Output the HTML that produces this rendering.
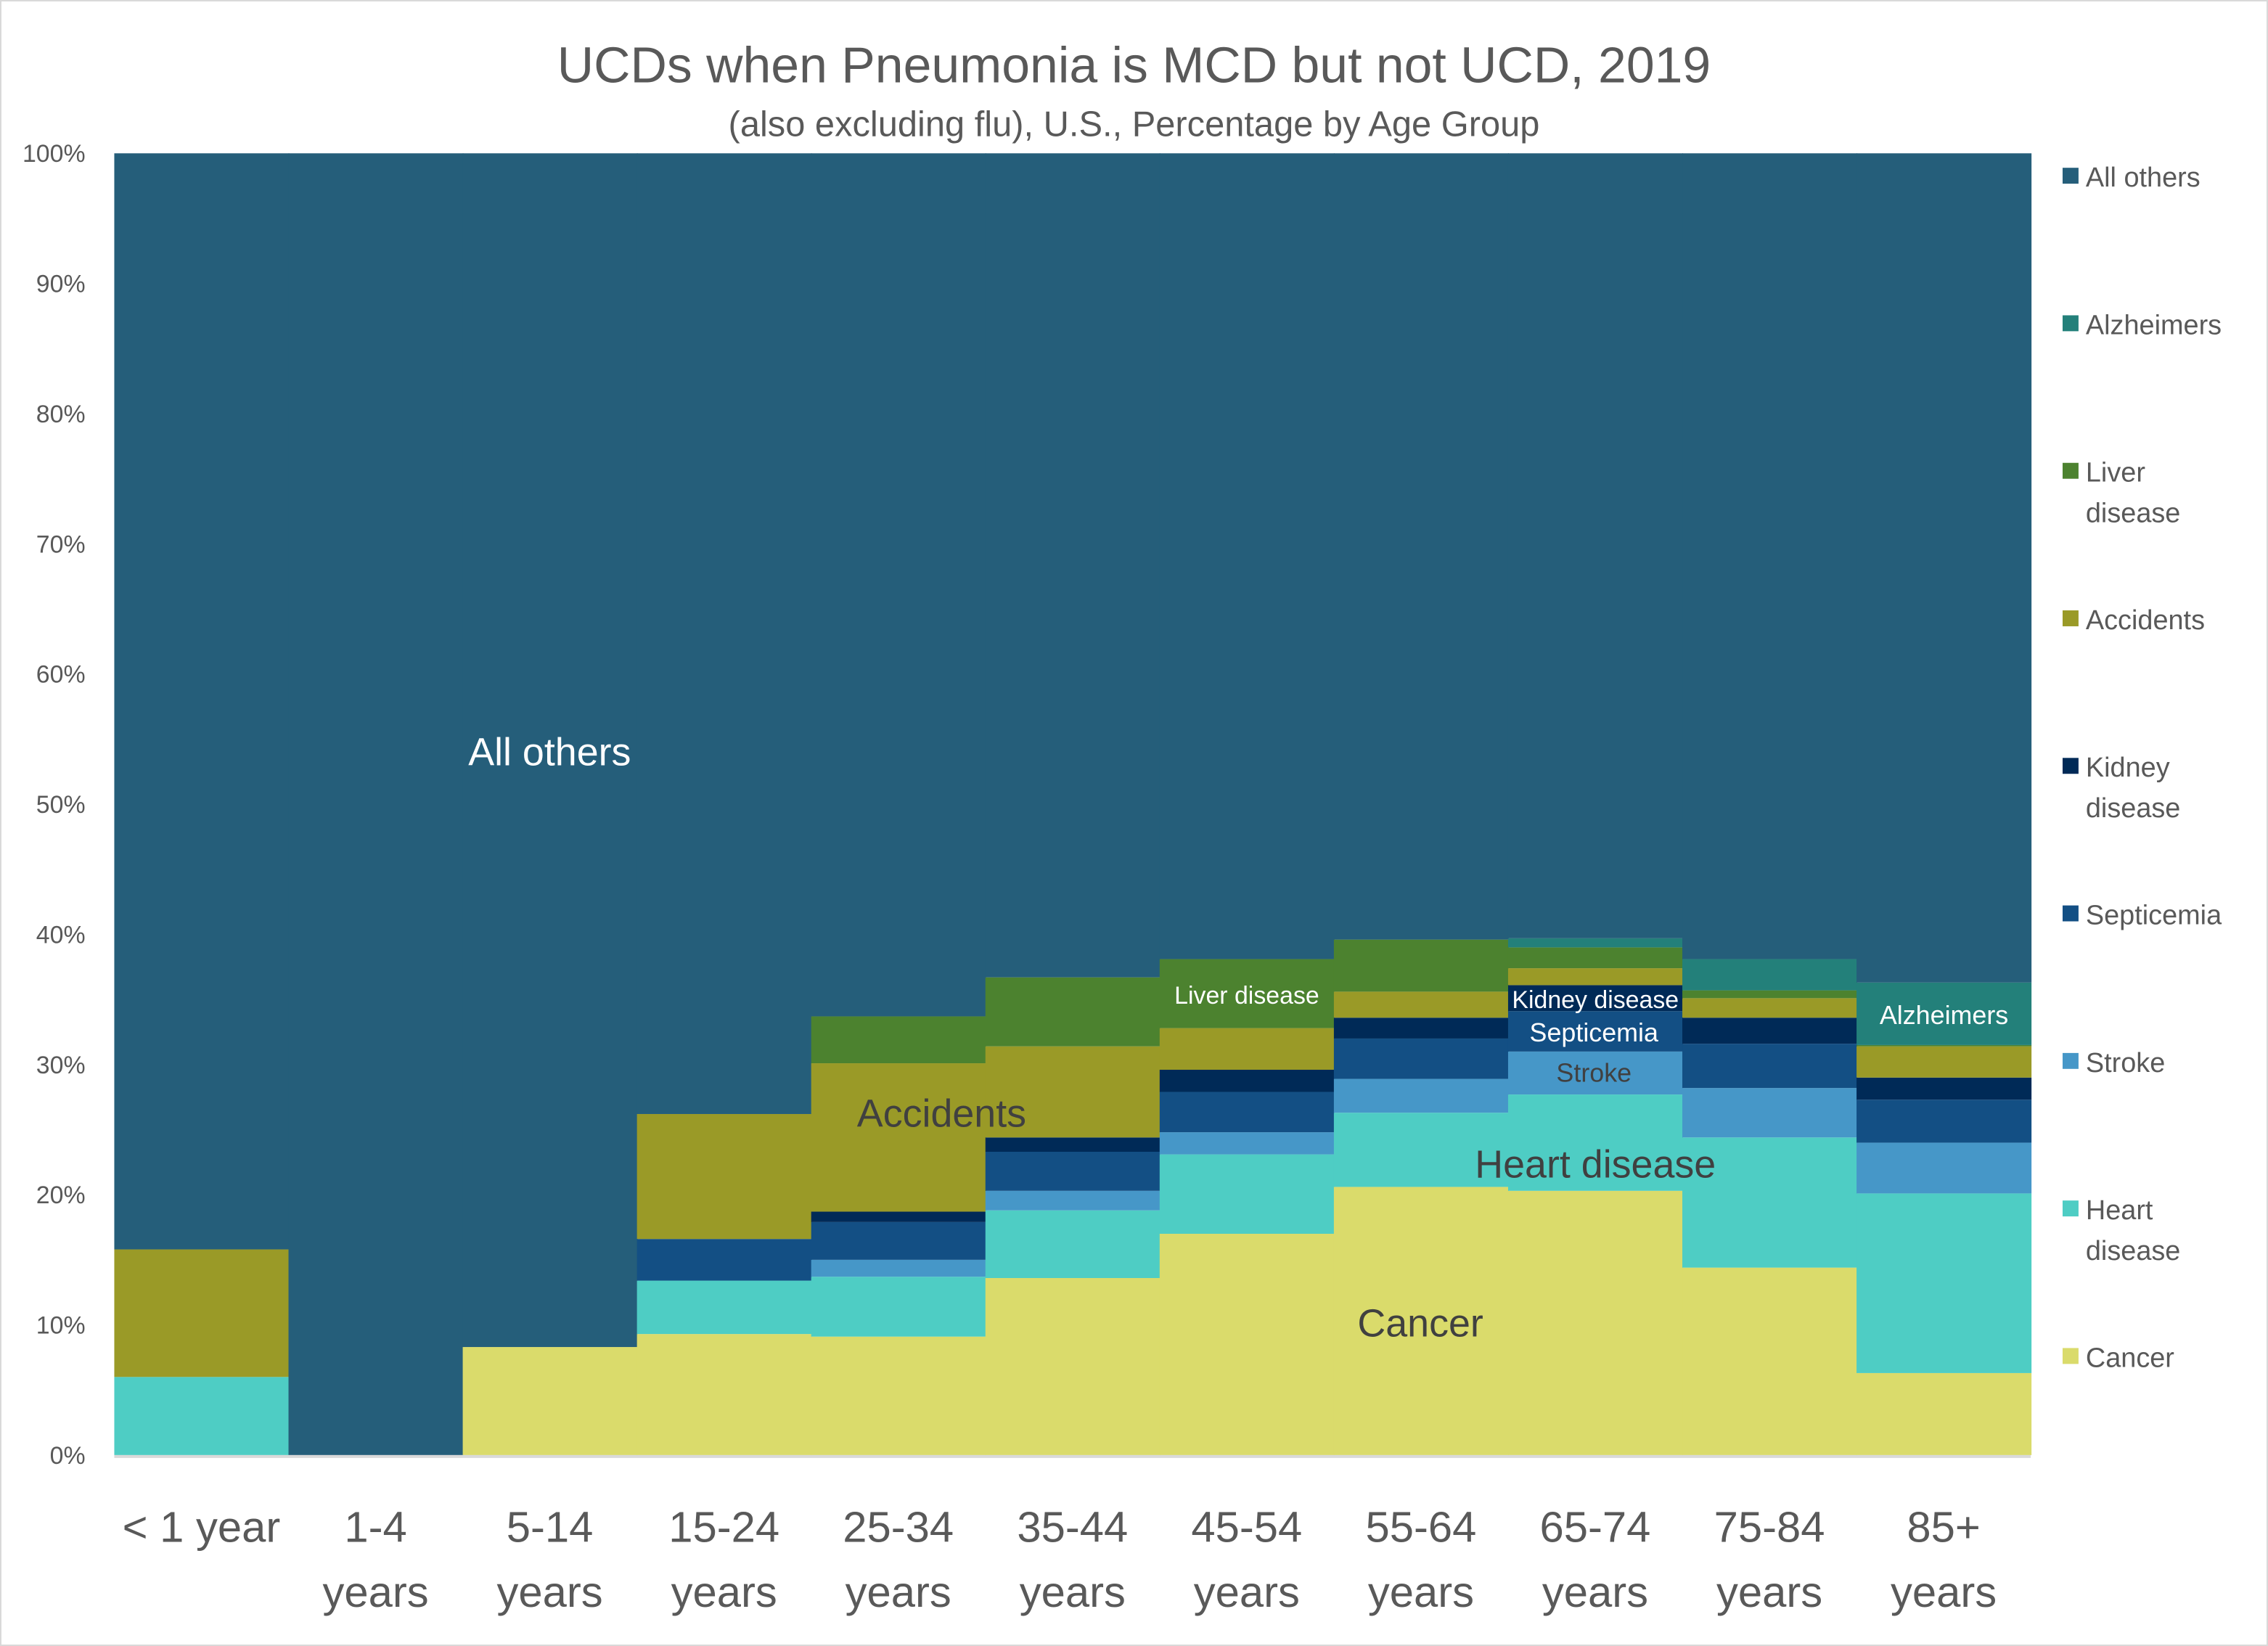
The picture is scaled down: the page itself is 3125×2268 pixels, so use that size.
<!DOCTYPE html>
<html><head><meta charset="utf-8">
<style>
html,body{margin:0;padding:0;background:#fff;}
svg{display:block;font-family:"Liberation Sans",sans-serif;}
</style></head>
<body>
<svg id="chart" width="3125" height="2268" viewBox="0 0 1568 1138" xmlns="http://www.w3.org/2000/svg">
<rect x="0.5" y="0.5" width="1567" height="1137" fill="#fff" stroke="#d9d9d9"/>
<text x="784" y="57" text-anchor="middle" font-size="35" fill="#595959">UCDs when Pneumonia is MCD but not UCD, 2019</text>
<text x="784" y="94" text-anchor="middle" font-size="24.5" fill="#595959">(also excluding flu), U.S., Percentage by Age Group</text>
<g id="plot"></g>
<g id="yaxis"></g>
<g id="xaxis"></g>
<g id="legend"></g>
<g id="labels"></g>
</svg>
<script>
const categories = ["< 1 year","1-4 years","5-14 years","15-24 years","25-34 years","35-44 years","45-54 years","55-64 years","65-74 years","75-84 years","85+ years"];
const seriesNames = ["Cancer","Heart disease","Stroke","Septicemia","Kidney disease","Accidents","Liver disease","Alzheimers","All others"];
const cancer   = [0, 0, 8.3, 9.3, 9.1, 13.6, 17.0, 20.6, 20.3, 14.4, 6.3];
const heart    = [6.0, 0, 0, 4.1, 4.6, 5.2, 6.1, 5.7, 7.4, 10.0, 13.8];
const stroke   = [0, 0, 0, 0, 1.3, 1.5, 1.7, 2.6, 3.3, 3.8, 3.9];
const septic   = [0, 0, 0, 3.2, 2.9, 3.0, 3.1, 3.1, 3.1, 3.4, 3.3];
const kidney   = [0, 0, 0, 0, 0.8, 1.1, 1.7, 1.6, 2.0, 2.0, 1.7];
const accidents= [9.8, 0, 0, 9.6, 11.4, 7.0, 3.2, 2.0, 1.3, 1.5, 2.4];
const liver    = [0, 0, 0, 0, 3.6, 5.3, 5.3, 4.0, 1.6, 0.6, 0.1];
const alz      = [0, 0, 0, 0, 0, 0, 0, 0, 0.7, 2.4, 4.8];
const yTicks = [0,10,20,30,40,50,60,70,80,90,100];
const colors = ["#DADB6B","#4ECDC4","#4697C8","#134F84","#002A57","#9A9A27","#4C822F","#23807A","#255E7A"];

const NS="http://www.w3.org/2000/svg";
const X0=79, X1=1404, Y0=1006, Y1=106;
const bw=(X1-X0)/categories.length;
const xs=i=>X0+i*bw;
const ys=v=>Y0-(v/100)*(Y0-Y1);
function mk(tag,attrs,parent){const e=document.createElementNS(NS,tag);for(const k in attrs)e.setAttribute(k,attrs[k]);parent.appendChild(e);return e;}
const plot=document.getElementById('plot');
const data=[cancer,heart,stroke,septic,kidney,accidents,liver,alz];
const keys=["cancer","heart-disease","stroke","septicemia","kidney-disease","accidents","liver-disease","alzheimers","all-others"];
categories.forEach((c,i)=>{
  let base=0;
  for(let s=0;s<=data.length;s++){
    const v = s<data.length ? data[s][i] : 100-base;
    if(v<=0) continue;
    const r=mk('rect',{x:xs(i),y:ys(base+v),width:bw+0.5,height:ys(base)-ys(base+v),fill:colors[s]},plot);
    
    
    base+=v;
  }
});
mk('line',{x1:X0,x2:X1,y1:Y0+1,y2:Y0+1,stroke:'#d9d9d9','stroke-width':2},plot);
const ya=document.getElementById('yaxis');
yTicks.forEach(t=>{
  const e=mk('text',{x:59,y:ys(t)+6,'text-anchor':'end','font-size':17,fill:'#595959'},ya);
  e.textContent=t+'%';
  
  
});
const xa=document.getElementById('xaxis');
categories.forEach((c,i)=>{
  const cx=xs(i)+bw/2;
  const parts=c==="< 1 year"?["< 1 year"]:[c.split(' ')[0],c.split(' ')[1]];
  parts.forEach((p,j)=>{
    const e=mk('text',{x:cx,y:1066+j*45,'text-anchor':'middle','font-size':30,fill:'#595959'},xa);
    e.textContent=p;
    
    
  });
});
const lg=document.getElementById('legend');
const legendItems=[["All others",122,null,8],["Alzheimers",224,null,7],["Liver","326","disease",6],["Accidents",428,null,5],["Kidney",530,"disease",4],["Septicemia",632,null,3],["Stroke",734,null,2],["Heart",836,"disease",1],["Cancer",938,null,0]];
legendItems.forEach(it=>{
  const y=+it[1];
  const r=mk('rect',{x:1426,y:y-6,width:11,height:11,fill:colors[it[3]]},lg);
  
  
  const t=mk('text',{x:1442,y:y+7,'font-size':19,fill:'#595959'},lg);
  t.textContent=it[0];
  
  
  if(it[2]){const t2=mk('text',{x:1442,y:y+35,'font-size':19,fill:'#595959'},lg);t2.textContent=it[2];
  
  }
});
const lb=document.getElementById('labels');
[["All others",380,529,27,"#fff"],["Accidents",651,779,27,"#404040"],["Liver disease",862,694,17,"#fff"],["Kidney disease",1103,697,17,"#fff"],["Septicemia",1102,720,18,"#fff"],["Stroke",1102,748,18,"#404040"],["Heart disease",1103,814,27,"#404040"],["Cancer",982,924,27,"#404040"],["Alzheimers",1344,708,18,"#fff"]].forEach(l=>{
  const t=mk('text',{x:l[1],y:l[2],'text-anchor':'middle','font-size':l[3],fill:l[4]},lb);
  t.textContent=l[0];
  
  
});
</script>
</body></html>
